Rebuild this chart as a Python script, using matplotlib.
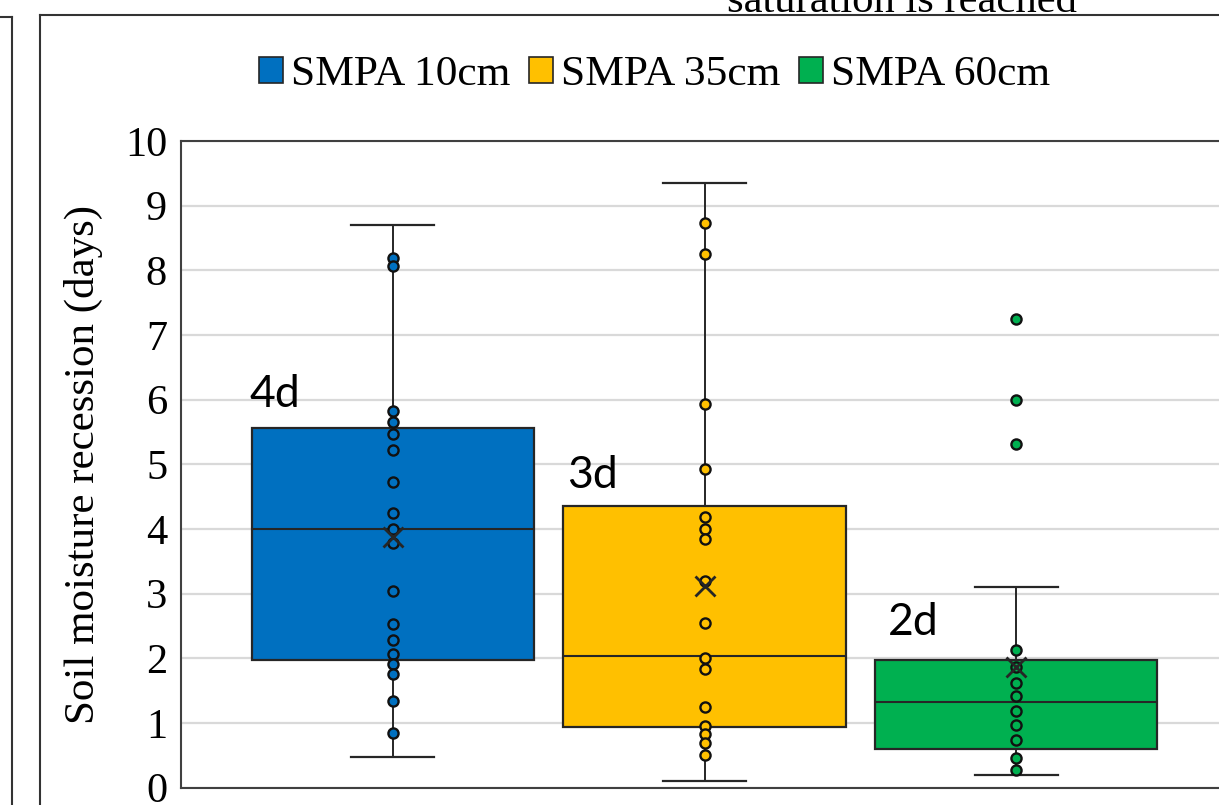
import matplotlib
matplotlib.use("Agg")
import matplotlib.pyplot as plt
from matplotlib.patches import Patch
from matplotlib.lines import Line2D

series = ["SMPA 10cm", "SMPA 35cm", "SMPA 60cm"]
colors = ["#0070C0", "#FFC000", "#00B050"]
labels = ["4d", "3d", "2d"]

# box summary per depth (days)
q1 = [1.98, 0.93, 0.60]
median = [4.0, 2.04, 1.32]
q3 = [5.56, 4.36, 1.97]
whis_lo = [0.47, 0.10, 0.19]
whis_hi = [8.70, 9.35, 3.10]
means = [3.87, 3.12, 1.86]

# individual recession events
pts_10 = [8.19, 8.06, 5.82, 5.66, 5.47, 5.22, 4.72, 4.25, 4.0, 3.79, 3.04,
          2.53, 2.28, 2.06, 1.91, 1.76, 1.34, 0.85]
pts_35 = [8.73, 8.26, 5.94, 4.93, 4.18, 4.0, 3.84, 3.2, 2.55, 2.0, 1.84,
          1.24, 0.96, 0.83, 0.69, 0.50]
pts_60 = [7.24, 6.0, 5.31, 2.13, 1.86, 1.62, 1.41, 1.19, 0.97, 0.73, 0.46, 0.27]
points = [pts_10, pts_35, pts_60]

label_pos = [(0.54, 5.89), (1.56, 4.64), (2.59, 2.36)]

plt.rcParams['font.family'] = ['Liberation Serif', 'DejaVu Sans']

W, H = 1219, 805
fig = plt.figure(figsize=(W / 100, H / 100), dpi=100)
ax = fig.add_axes([181 / W, (H - 787.6) / H, (1228 - 181) / W, (787.6 - 141) / H])

edge = "#262626"
stats = []
for i in range(3):
    stats.append(dict(med=median[i], q1=q1[i], q3=q3[i], whislo=whis_lo[i],
                      whishi=whis_hi[i], mean=means[i], fliers=[]))

pos = [1, 2, 3]
bp = ax.bxp(stats, positions=pos, widths=0.906, capwidths=0.267,
            patch_artist=True, showmeans=True, showfliers=False,
            boxprops=dict(edgecolor=edge, linewidth=1.6),
            medianprops=dict(color=edge, linewidth=1.5),
            whiskerprops=dict(color=edge, linewidth=1.4),
            capprops=dict(color=edge, linewidth=1.6),
            meanprops=dict(marker="x", markersize=14, markeredgecolor=edge,
                           markeredgewidth=2.0),
            zorder=3)
for patch, c in zip(bp["boxes"], colors):
    patch.set_facecolor(c)
for m in bp["means"]:
    m.set_zorder(6)

for i, vals in enumerate(points):
    ax.plot([pos[i]] * len(vals), vals, linestyle="none", marker="o",
            markersize=7.3, markerfacecolor=colors[i], markeredgecolor="#111111",
            markeredgewidth=1.7, zorder=5)

for (x, y), t in zip(label_pos, labels):
    ax.text(x, y, t, family="Lato", fontsize=32, color="black",
            ha="left", va="baseline", zorder=7)

ax.set_xlim(0.32, 3.68)
ax.set_ylim(0, 10)
ax.set_yticks(range(0, 11))
ax.set_xticks([])
ax.tick_params(axis="y", length=0, pad=10, labelsize=30.5)
ax.yaxis.grid(True, color="#d9d9d9", linewidth=1.6, zorder=0)
ax.set_axisbelow(True)
for s in ax.spines.values():
    s.set_color("#404040")
    s.set_linewidth(1.5)

ax.set_ylabel("Soil moisture recession (days)", fontsize=31)
ax.yaxis.set_label_coords((103 - 181) / (1228 - 181), 0.5)

handles = [Patch(facecolor=c, edgecolor=edge, linewidth=1.2) for c in colors]
fig.legend(handles, series, loc="center", bbox_to_anchor=(0.537, 0.907),
           ncol=3, frameon=False, fontsize=31.3, handlelength=0.56,
           handleheight=0.56, handletextpad=0.18, columnspacing=0.42)

# chart frames and the caption running off the top edge
frame = "#333333"
def fline(xs, ys):
    fig.add_artist(Line2D([x / W for x in xs], [1 - y / H for y in ys],
                          color=frame, linewidth=1.5))
fline([40, 40], [15, H])
fline([40, W], [15, 15])
fline([12, 12], [17, H])
fline([0, 12], [17, 17])

fig.text(727 / W, 1 - 12 / H, "saturation is reached", fontsize=30.7,
         ha="left", va="baseline")

fig.savefig("out.png", dpi=100)
